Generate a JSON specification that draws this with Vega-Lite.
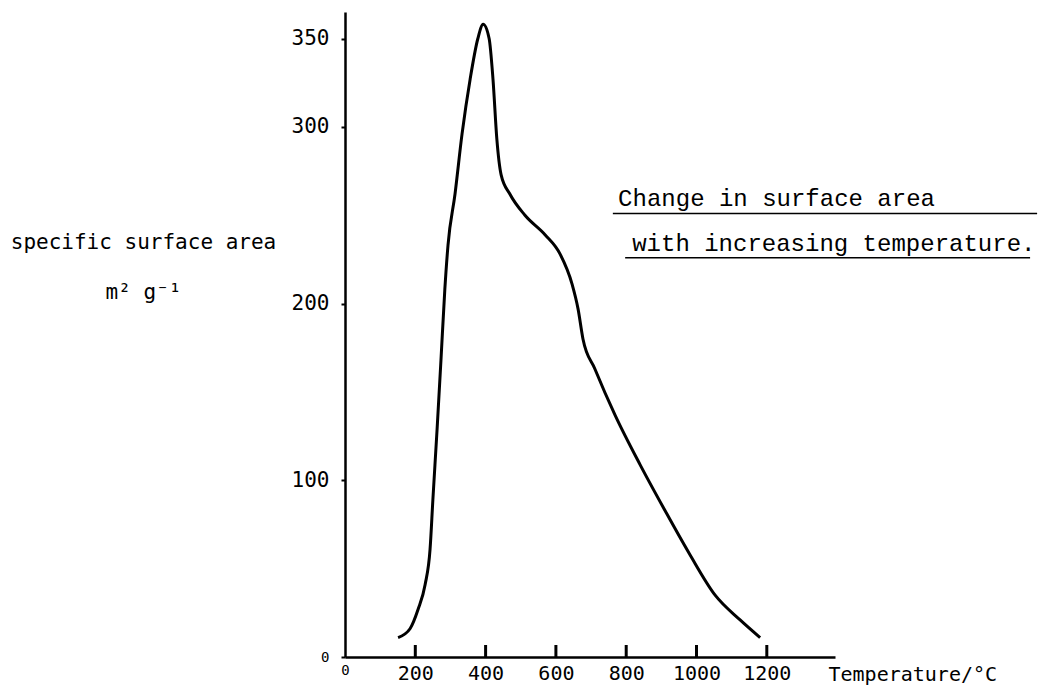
{
  "$schema": "https://vega.github.io/schema/vega-lite/v6.json",
  "autosize": "none",
  "width": 490,
  "height": 645,
  "padding": {"left": 345, "top": 12, "right": 206, "bottom": 29},
  "background": "white",
  "config": {
    "view": {"stroke": null},
    "axis": {
      "grid": false,
      "domainColor": "black",
      "domainWidth": 2.5,
      "tickColor": "black",
      "tickWidth": 2,
      "labelColor": "black",
      "titleColor": "black",
      "labelFont": "DejaVu Sans Mono",
      "titleFont": "DejaVu Sans Mono",
      "titleFontWeight": "normal",
      "labelFontSize": 20,
      "titleFontSize": 21
    }
  },
  "layer": [
    {
      "data": {
        "values": [
          {"temperature": 151, "area": 11},
          {"temperature": 185, "area": 16},
          {"temperature": 208, "area": 27},
          {"temperature": 228, "area": 41},
          {"temperature": 242, "area": 61},
          {"temperature": 250, "area": 89},
          {"temperature": 262, "area": 129},
          {"temperature": 273, "area": 168},
          {"temperature": 284, "area": 208},
          {"temperature": 293, "area": 233},
          {"temperature": 313, "area": 262},
          {"temperature": 333, "area": 296},
          {"temperature": 356, "area": 327},
          {"temperature": 378, "area": 350},
          {"temperature": 393, "area": 358},
          {"temperature": 410, "area": 350},
          {"temperature": 421, "area": 327},
          {"temperature": 432, "area": 293},
          {"temperature": 444, "area": 273},
          {"temperature": 469, "area": 262},
          {"temperature": 512, "area": 250},
          {"temperature": 569, "area": 239},
          {"temperature": 612, "area": 228},
          {"temperature": 646, "area": 211},
          {"temperature": 663, "area": 197},
          {"temperature": 677, "area": 180},
          {"temperature": 711, "area": 163},
          {"temperature": 768, "area": 137},
          {"temperature": 839, "area": 109},
          {"temperature": 910, "area": 83},
          {"temperature": 981, "area": 58},
          {"temperature": 1053, "area": 35},
          {"temperature": 1124, "area": 21},
          {"temperature": 1181, "area": 11}
        ]
      },
      "mark": {"type": "line", "color": "black", "strokeWidth": 3, "interpolate": "monotone"},
      "encoding": {
        "x": {
          "field": "temperature",
          "type": "quantitative",
          "scale": {"domain": [0, 1394], "nice": false, "zero": false},
          "axis": {
            "values": [0, 200, 400, 600, 800, 1000, 1200],
            "format": "d",
            "title": "Temperature/°C",
            "titleAnchor": "start",
            "titleAlign": "left",
            "titleBaseline": "alphabetic",
            "titleX": 483,
            "titleY": 23,
            "titleFontSize": 20,
            "ticks": false,
            "labelPadding": 6,
            "labelFontSize": {"condition": {"test": "datum.value == 0", "value": 14}, "value": 20},
            "labelFlush": false,
            "labelOverlap": false
          }
        },
        "y": {
          "field": "area",
          "type": "quantitative",
          "scale": {"domain": [0, 365], "nice": false, "zero": true},
          "axis": {
            "values": [0, 100, 200, 300, 350],
            "format": "d",
            "title": ["specific surface area", "m² g⁻¹"],
            "titleAngle": 0,
            "titleAlign": "center",
            "titleAnchor": "start",
            "titleBaseline": "alphabetic",
            "titleX": -202,
            "titleY": 236,
            "titleLineHeight": 50,
            "tickSize": 4,
            "labelPadding": 12,
            "labelFontSize": {"condition": {"test": "datum.value == 0", "value": 14}, "value": 21},
            "labelFlush": false,
            "labelOverlap": false
          }
        }
      }
    },
    {
      "data": {
        "values": [
          {"tick": 200, "base": 3.4},
          {"tick": 400, "base": 3.4},
          {"tick": 600, "base": 3.4},
          {"tick": 800, "base": 3.4},
          {"tick": 1000, "base": 3.4},
          {"tick": 1200, "base": 3.4}
        ]
      },
      "mark": {"type": "tick", "orient": "vertical", "color": "black", "size": 12, "thickness": 3, "opacity": 1},
      "encoding": {
        "x": {"field": "tick", "type": "quantitative"},
        "y": {"field": "base", "type": "quantitative"}
      }
    },
    {
      "data": {
        "values": [
          {"temperature": 777, "area": 255, "label": "Change  in  surface  area"},
          {"temperature": 817, "area": 229.5, "label": "with increasing temperature."}
        ]
      },
      "mark": {"type": "text", "align": "left", "baseline": "alphabetic", "font": "Liberation Mono", "fontSize": 24, "color": "black"},
      "encoding": {
        "x": {"field": "temperature", "type": "quantitative"},
        "y": {"field": "area", "type": "quantitative"},
        "text": {"field": "label"}
      }
    },
    {
      "data": {
        "values": [
          {"start": 762, "end": 1969, "level": 251},
          {"start": 797, "end": 1949, "level": 226}
        ]
      },
      "mark": {"type": "rule", "color": "black", "strokeWidth": 1.5},
      "encoding": {
        "x": {"field": "start", "type": "quantitative"},
        "x2": {"field": "end"},
        "y": {"field": "level", "type": "quantitative"}
      }
    }
  ]
}
